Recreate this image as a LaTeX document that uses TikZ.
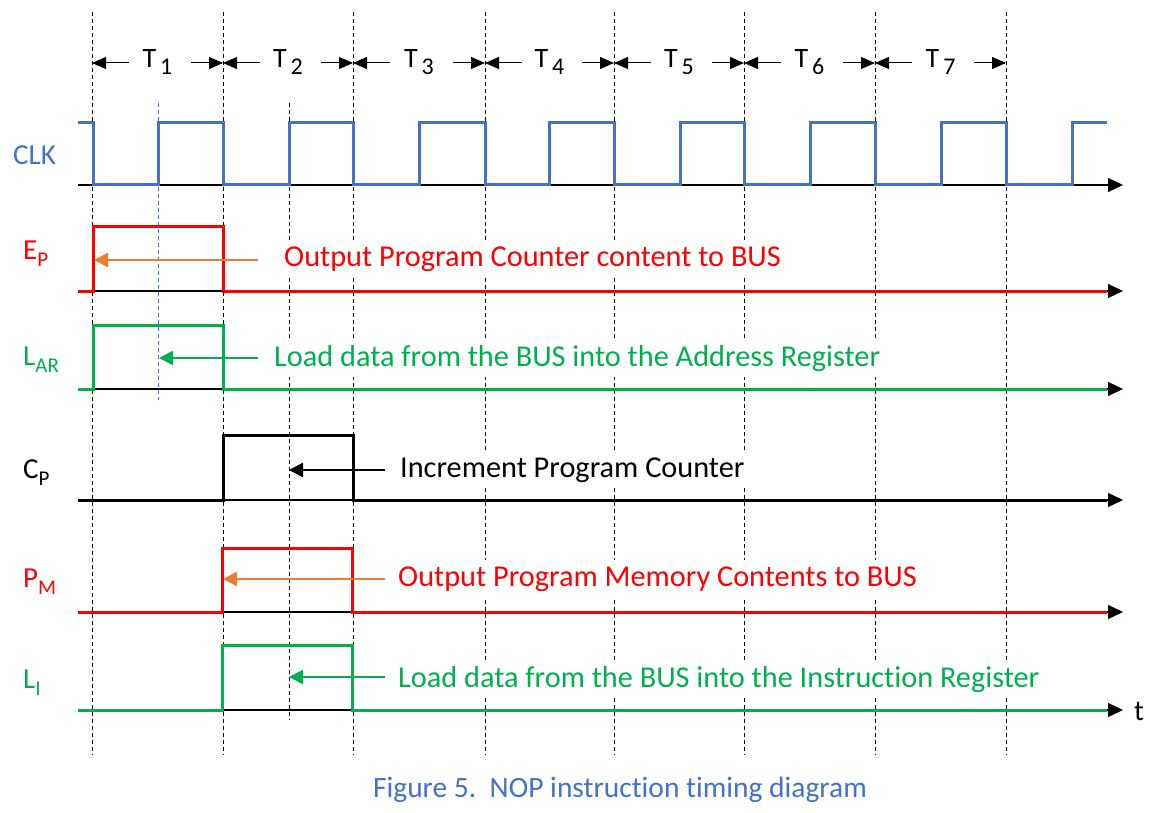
\documentclass[tikz,border=0pt]{standalone}
\usepackage{fontspec}
\setmainfont{Carlito}[Ligatures=NoCommon]
\usetikzlibrary{arrows.meta}
\definecolor{clkblue}{HTML}{4472C4}
\definecolor{sigred}{HTML}{FF0000}
\definecolor{siggreen}{HTML}{00B050}
\definecolor{arrorange}{HTML}{ED7D31}
\newcommand\sigsub[2]{#1\raisebox{-7pt}{\fontsize{21}{22}\selectfont #2}}
\begin{document}
\begin{tikzpicture}[x=1pt,y=-1pt,
  guide/.style={dash pattern=on 4pt off 3pt, line width=0.9pt, black},
  axisline/.style={line width=1.1pt, black, -{Triangle[length=15pt,width=14pt]}},
  sig/.style={line width=3pt, line join=miter},
  tarr/.style={line width=1pt, black, -{Triangle[length=14pt,width=12pt]}},
  ptr/.style={line width=2.5pt, -{Triangle[length=14pt,width=14pt]}},
  lab/.style={font=\fontsize{29}{30}\selectfont, anchor=base west, inner sep=0pt},
  msg/.style={font=\fontsize{30.3}{32}\selectfont, anchor=base west, fill=white, inner xsep=6pt, inner ysep=6pt},
  tlab/.style={font=\fontsize{28}{30}\selectfont, anchor=base, inner sep=0pt}
]
\useasboundingbox (0,0) rectangle (1173,813);
\fill[white] (0,0) rectangle (1173,813);

% guide lines
\foreach \x in {92,223,353,485,614,744,875,1006}
  \draw[guide] (\x,12) -- (\x,755);
\draw[guide] (289,103) -- (289,720);
\draw[guide, clkblue, line width=0.8pt] (158,103) -- (158,400);

% period labels
\foreach \i/\a/\b in {1/92/223,2/223/353,3/353/485,4/485/614,5/614/744,6/744/875,7/875/1006}{
  \node[tlab] (T\i) at ({(\a+\b)/2},68) {T\raisebox{-7pt}{\fontsize{24}{25}\selectfont\,\i}};
  \coordinate (T\i l) at (\a,63);
  \coordinate (T\i r) at (\b,63);
  \draw[tarr] ([xshift=37pt]T\i l) -- (T\i l);
  \draw[tarr] ([xshift=-32pt]T\i r) -- (T\i r);
}

% messages (white boxes hide guides)
\node[msg, text=sigred] (mEP) at (278,266) {Output Program Counter content to BUS};
\node[msg, text=siggreen] (mLAR) at (268,366) {Load data from the BUS into the Address Register};
\node[msg, text=black] (mCP) at (394,477) {Increment Program Counter};
\node[msg, text=sigred] (mPM) at (392,586) {Output Program Memory Contents to BUS};
\node[msg, text=siggreen] (mLI) at (392,687) {Load data from the BUS into the Instruction Register};

% axes
\foreach \y/\n in {185/clk,291/ep,389/lar,500/cp,612/pm,710/li}{
  \coordinate (\n s) at (78,\y);
  \coordinate (\n e) at (1123,\y);
  \draw[axisline] (\n s) -- (\n e);
}

% signals
\draw[sig, clkblue] (78,123) -- (93,123) -- (93,185) -- (158,185) -- (158,123) -- (223,123)
  -- (223,185) -- (289,185) -- (289,123) -- (353,123) -- (353,185) -- (419,185) -- (419,123)
  -- (485,123) -- (485,185) -- (549,185) -- (549,123) -- (614,123) -- (614,185) -- (680,185)
  -- (680,123) -- (744,123) -- (744,185) -- (810,185) -- (810,123) -- (875,123) -- (875,185)
  -- (941,185) -- (941,123) -- (1006,123) -- (1006,185) -- (1072,185) -- (1072,123) -- (1107,123);
\draw[sig, sigred] (78,291) -- (93,291) -- (93,227) -- (223,227) -- (223,291) -- (1107,291);
\draw[sig, siggreen] (78,389) -- (93,389) -- (93,325) -- (223,325) -- (223,389) -- (1107,389);
\draw[sig, black] (78,500) -- (223,500) -- (223,435) -- (353,435) -- (353,500) -- (1107,500);
\draw[sig, sigred] (78,612) -- (222,612) -- (222,548) -- (352,548) -- (352,612) -- (1107,612);
\draw[sig, siggreen] (78,710) -- (222,710) -- (222,645) -- (352,645) -- (352,710) -- (1107,710);

% pointer arrows
\coordinate (pEPa) at (258,260); \coordinate (pEPb) at (94,260);
\coordinate (pLARa) at (258,358); \coordinate (pLARb) at (159,358);
\coordinate (pCPa) at (385,470); \coordinate (pCPb) at (289,470);
\coordinate (pPMa) at (385,579); \coordinate (pPMb) at (223,579);
\coordinate (pLIa) at (385,677); \coordinate (pLIb) at (289,677);
\draw[ptr, arrorange] (pEPa) -- (pEPb);
\draw[ptr, siggreen] (pLARa) -- (pLARb);
\draw[ptr, black] (pCPa) -- (pCPb);
\draw[ptr, arrorange] (pPMa) -- (pPMb);
\draw[ptr, siggreen] (pLIa) -- (pLIb);

% signal labels
\node[lab, text=clkblue] (lCLK) at (13,165) {CLK};
\node[lab, text=sigred] (lEP) at (23,260) {\sigsub{E}{P}};
\node[lab, text=siggreen] (lLAR) at (23,365) {\sigsub{L}{AR}};
\node[lab, text=black] (lCP) at (23,478) {\sigsub{C}{P}};
\node[lab, text=sigred] (lPM) at (23,587) {\sigsub{P}{M}};
\node[lab, text=siggreen] (lLI) at (23,688) {\sigsub{L}{I}};
\node[lab, text=black] (lt) at (1134,720) {t};

% caption
\node[font=\fontsize{29.5}{32}\selectfont, text=clkblue, anchor=base, inner sep=0pt] (cap) at (620,797) {Figure 5.\ \ NOP instruction timing diagram};
\end{tikzpicture}
\end{document}
